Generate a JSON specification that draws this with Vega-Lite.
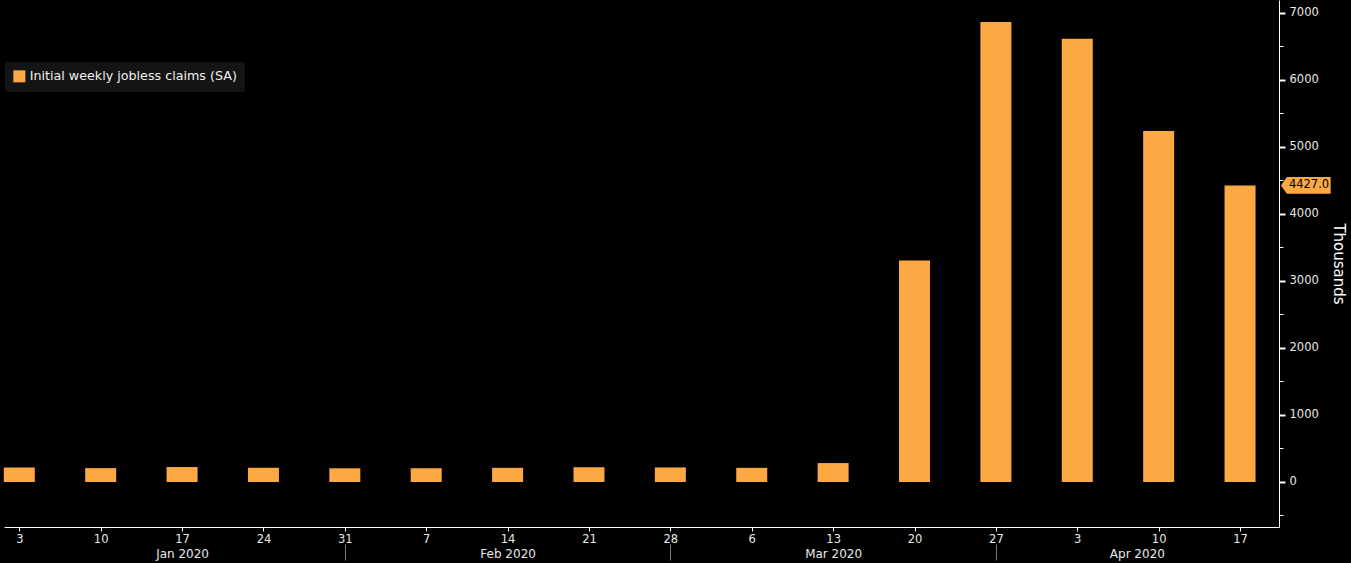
{
  "$schema": "https://vega.github.io/schema/vega-lite/v6.json",
  "width": 1275,
  "height": 527,
  "autosize": "none",
  "padding": {"left": 4, "top": 0, "right": 72, "bottom": 36},
  "background": "#000000",
  "config": {"view": {"stroke": null}, "font": "DejaVu Sans"},
  "resolve": {"axis": {"x": "independent", "y": "independent"}},
  "layer": [
    {
      "data": {
        "values": [
          {"week": "2020-01-03", "claims": 216, "series": "Initial weekly jobless claims (SA)"},
          {"week": "2020-01-10", "claims": 207, "series": "Initial weekly jobless claims (SA)"},
          {"week": "2020-01-17", "claims": 223, "series": "Initial weekly jobless claims (SA)"},
          {"week": "2020-01-24", "claims": 212, "series": "Initial weekly jobless claims (SA)"},
          {"week": "2020-01-31", "claims": 204, "series": "Initial weekly jobless claims (SA)"},
          {"week": "2020-02-07", "claims": 205, "series": "Initial weekly jobless claims (SA)"},
          {"week": "2020-02-14", "claims": 211, "series": "Initial weekly jobless claims (SA)"},
          {"week": "2020-02-21", "claims": 220, "series": "Initial weekly jobless claims (SA)"},
          {"week": "2020-02-28", "claims": 217, "series": "Initial weekly jobless claims (SA)"},
          {"week": "2020-03-06", "claims": 211, "series": "Initial weekly jobless claims (SA)"},
          {"week": "2020-03-13", "claims": 282, "series": "Initial weekly jobless claims (SA)"},
          {"week": "2020-03-20", "claims": 3307, "series": "Initial weekly jobless claims (SA)"},
          {"week": "2020-03-27", "claims": 6867, "series": "Initial weekly jobless claims (SA)"},
          {"week": "2020-04-03", "claims": 6615, "series": "Initial weekly jobless claims (SA)"},
          {"week": "2020-04-10", "claims": 5237, "series": "Initial weekly jobless claims (SA)"},
          {"week": "2020-04-17", "claims": 4427, "series": "Initial weekly jobless claims (SA)"}
        ]
      },
      "mark": {"type": "bar", "width": 31},
      "encoding": {
        "x": {
          "field": "week",
          "type": "temporal",
          "scale": {
            "type": "utc",
            "padding": 0,
            "domain": [
              {"year": 2020, "month": 1, "date": 1, "hours": 16, "minutes": 25, "utc": true},
              {"year": 2020, "month": 4, "date": 20, "hours": 8, "minutes": 25, "utc": true}
            ]
          },
          "axis": {
            "orient": "bottom",
            "title": null,
            "grid": false,
            "values": [
              {"year": 2020, "month": 1, "date": 3, "utc": true},
              {"year": 2020, "month": 1, "date": 10, "utc": true},
              {"year": 2020, "month": 1, "date": 17, "utc": true},
              {"year": 2020, "month": 1, "date": 24, "utc": true},
              {"year": 2020, "month": 1, "date": 31, "utc": true},
              {"year": 2020, "month": 2, "date": 7, "utc": true},
              {"year": 2020, "month": 2, "date": 14, "utc": true},
              {"year": 2020, "month": 2, "date": 21, "utc": true},
              {"year": 2020, "month": 2, "date": 28, "utc": true},
              {"year": 2020, "month": 3, "date": 6, "utc": true},
              {"year": 2020, "month": 3, "date": 13, "utc": true},
              {"year": 2020, "month": 3, "date": 20, "utc": true},
              {"year": 2020, "month": 3, "date": 27, "utc": true},
              {"year": 2020, "month": 4, "date": 3, "utc": true},
              {"year": 2020, "month": 4, "date": 10, "utc": true},
              {"year": 2020, "month": 4, "date": 17, "utc": true}
            ],
            "labelExpr": "utcFormat(datum.value, '%-d')",
            "domainColor": "#ffffff",
            "domainWidth": 1,
            "tickColor": "#ffffff",
            "tickSize": 4,
            "labelColor": "#e8e8e8",
            "labelFontSize": 11.5,
            "labelPadding": 2,
            "labelFlush": false,
            "labelOverlap": false
          }
        },
        "y": {
          "field": "claims",
          "type": "quantitative",
          "scale": {"domain": [-672, 7194], "nice": false, "zero": false},
          "axis": {
            "orient": "right",
            "title": "Thousands",
            "titleColor": "#ffffff",
            "titleFontSize": 15,
            "titleFontWeight": "normal",
            "titlePadding": 12,
            "grid": false,
            "values": [0, 1000, 2000, 3000, 4000, 5000, 6000, 7000],
            "format": "d",
            "labelColor": "#e8e8e8",
            "labelFontSize": 11.5,
            "labelPadding": 4,
            "tickSize": 6,
            "tickWidth": 2,
            "tickColor": "#ffffff",
            "domainColor": "#ffffff",
            "labelFlush": false,
            "labelOverlap": false
          }
        },
        "y2": {"datum": 0},
        "color": {
          "field": "series",
          "type": "nominal",
          "scale": {"range": ["#FCA944"]},
          "legend": {
            "title": null,
            "orient": "none",
            "legendX": 1,
            "legendY": 62,
            "symbolType": "square",
            "symbolSize": 144,
            "symbolStrokeWidth": 0,
            "labelColor": "#f0f0f0",
            "labelFontSize": 12.7,
            "labelLimit": 400,
            "labelOffset": 4,
            "fillColor": "#141414",
            "padding": 8,
            "cornerRadius": 3
          }
        }
      }
    },
    {
      "data": {"values": [{"claims": 4427, "tag": "4427.0"}]},
      "mark": {
        "type": "point",
        "filled": true,
        "opacity": 1,
        "color": "#FCA944",
        "size": 2304,
        "shape": "M0.08,0L0.33,-0.35L2.15,-0.35L2.15,0.35L0.33,0.35Z"
      },
      "encoding": {
        "x": {
          "datum": {"year": 2020, "month": 4, "date": 20, "hours": 8, "minutes": 25, "utc": true},
          "type": "temporal",
          "axis": {
            "orient": "bottom",
            "offset": 19,
            "title": null,
            "grid": false,
            "domain": false,
            "ticks": false,
            "values": [
              {"year": 2020, "month": 1, "date": 17, "utc": true},
              {"year": 2020, "month": 2, "date": 14, "utc": true},
              {"year": 2020, "month": 3, "date": 13, "utc": true},
              {"year": 2020, "month": 4, "date": 8, "hours": 3, "utc": true}
            ],
            "labelExpr": "utcFormat(datum.value, '%b %Y')",
            "labelColor": "#e8e8e8",
            "labelFontSize": 12,
            "labelPadding": 2,
            "labelFlush": false,
            "labelOverlap": false
          }
        },
        "y": {
          "field": "claims",
          "type": "quantitative",
          "axis": {
            "orient": "right",
            "title": null,
            "grid": false,
            "domain": false,
            "labels": false,
            "tickSize": 4,
            "tickColor": "#ffffff",
            "values": [-500, 500, 1500, 2500, 3500, 4500, 5500, 6500]
          }
        }
      }
    },
    {
      "data": {"values": [{"claims": 4427, "tag": "4427.0"}]},
      "mark": {
        "type": "text",
        "color": "#000000",
        "fontSize": 11.5,
        "align": "center",
        "baseline": "middle",
        "dx": 30
      },
      "encoding": {
        "x": {
          "datum": {"year": 2020, "month": 4, "date": 20, "hours": 8, "minutes": 25, "utc": true},
          "type": "temporal",
          "axis": {
            "orient": "bottom",
            "offset": 17,
            "title": null,
            "grid": false,
            "domain": false,
            "labels": false,
            "ticks": true,
            "tickSize": 16,
            "tickColor": "#7a7a7a",
            "values": [
              {"year": 2020, "month": 1, "date": 31, "utc": true},
              {"year": 2020, "month": 2, "date": 28, "utc": true},
              {"year": 2020, "month": 3, "date": 27, "utc": true}
            ]
          }
        },
        "y": {"field": "claims", "type": "quantitative", "axis": null},
        "text": {"field": "tag"}
      }
    }
  ]
}
